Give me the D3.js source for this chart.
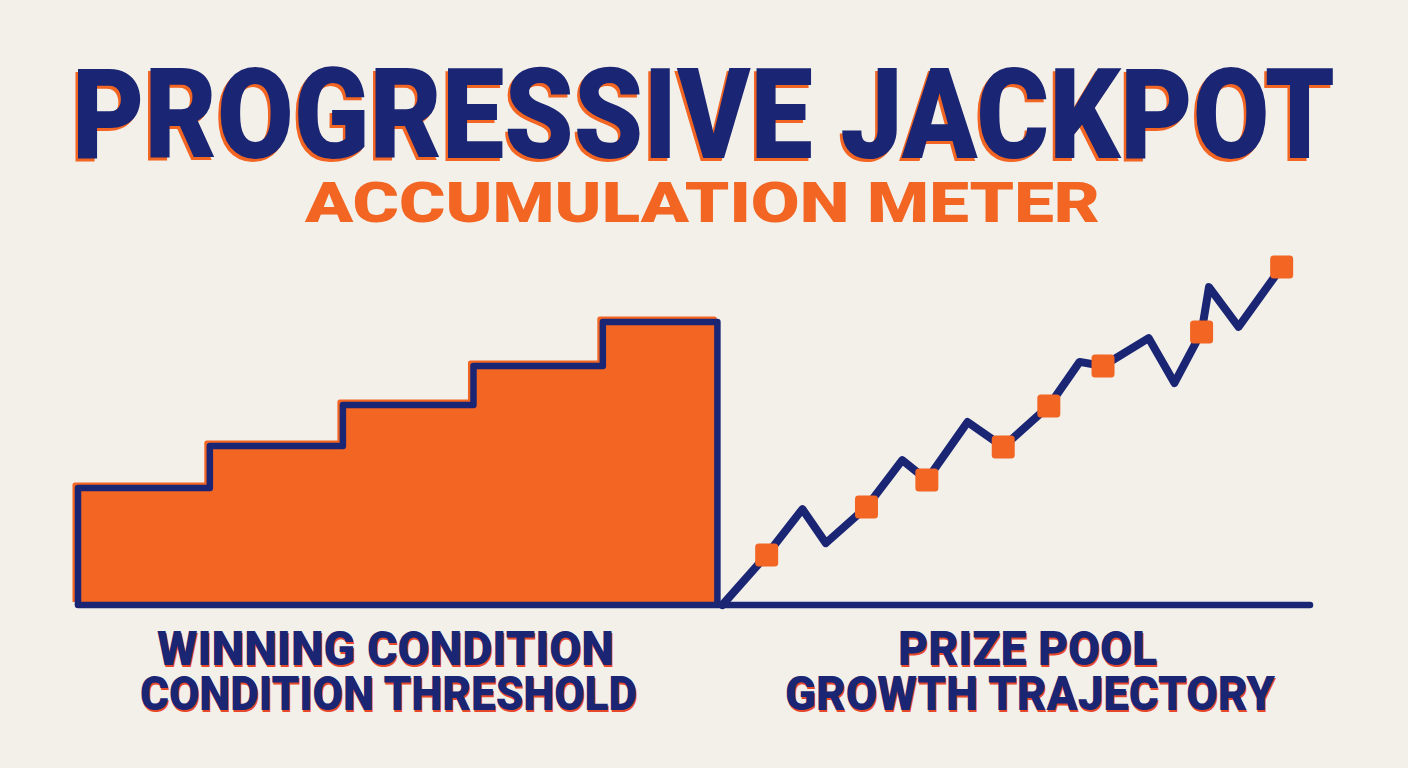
<!DOCTYPE html>
<html>
<head>
<meta charset="utf-8">
<script src="https://cdn.jsdelivr.net/npm/d3@7"></script>
<style>
  html, body { margin: 0; padding: 0; background: #f3f0ea; }
  svg { display: block; }
</style>
</head>
<body>
<svg id="chart" width="1408" height="768"></svg>
<script>
// ---- Data ----
const titleText = "PROGRESSIVE JACKPOT";
const subtitleText = "ACCUMULATION METER";
const leftLabelLines = ["WINNING CONDITION", "CONDITION THRESHOLD"];
const rightLabelLines = ["PRIZE POOL", "GROWTH TRAJECTORY"];

// Step chart (winning condition thresholds)
const stepCategories = ["Tier 1", "Tier 2", "Tier 3", "Tier 4", "Tier 5"];
const stepEdges = [0, 10.7, 21.5, 32.1, 42.6, 51.9];
const stepValues = [34.4, 46.8, 58.8, 70.3, 83.2];

// Prize pool growth trajectory
const poolX = [52.3, 55.9, 58.8, 60.7, 64.0, 66.9, 68.9, 72.2, 75.1, 78.8, 81.3, 83.2, 86.9, 89.0, 91.2, 91.8, 94.2, 97.7];
const poolY = [0, 14.7, 28.2, 18.2, 28.8, 42.6, 36.8, 53.8, 46.5, 58.5, 71.5, 70.3, 78.5, 65.3, 80.3, 93.5, 81.8, 99.4];
const poolMarker = [false, true, false, false, true, false, true, false, true, true, false, true, false, false, true, false, false, true];

// ---- Style ----
const NAVY = "#1a2573";
const ORANGE = "#f26522";
const SHADOW = "#e8482a";
const FONT = "Roboto, 'Noto Sans', Inter, 'DejaVu Sans', sans-serif";

const svg = d3.select("#chart");

const x = d3.scaleLinear().domain([0, 100]).range([78, 1310]);
const y = d3.scaleLinear().domain([0, 100]).range([605, 265]);

// ---- Titles ----
function shadowText(g, txt, px, py, size, len, color, shadowColor, dx, dy, anchor) {
  const mk = (fill, ox, oy) => g.append("text")
    .attr("x", px + ox).attr("y", py + oy)
    .attr("text-anchor", anchor || "start")
    .attr("font-family", FONT).attr("font-weight", 900)
    .attr("font-size", size)
    .attr("textLength", len).attr("lengthAdjust", "spacingAndGlyphs")
    .attr("fill", fill).text(txt);
  if (shadowColor) mk(shadowColor, dx, dy);
  mk(color, 0, 0);
}

const tg = svg.append("g");
shadowText(tg, titleText, 72, 158, 126, 1263, NAVY, ORANGE, -2.5, 2.5);
shadowText(tg, subtitleText, 305, 222, 55, 795, ORANGE, null, 0, 0);

// ---- Step chart ----
const stepData = stepValues.map((v, i) => ({ x: stepEdges[i], v }));
stepData.push({ x: stepEdges[stepEdges.length - 1], v: stepValues[stepValues.length - 1] });

const area = d3.area().curve(d3.curveStepAfter)
  .x(d => x(d.x)).y0(y(0)).y1(d => y(d.v));

const outlineData = [{ x: stepEdges[0], v: 0 }, ...stepData, { x: stepEdges[stepEdges.length - 1], v: 0 }];
const outline = d3.line().curve(d3.curveStepAfter)
  .x(d => x(d.x)).y(d => y(d.v));

const sg = svg.append("g");
sg.append("path").datum(outlineData)
  .attr("d", outline).attr("transform", "translate(-3,-3)")
  .attr("fill", "none").attr("stroke", ORANGE).attr("stroke-width", 5)
  .attr("stroke-linejoin", "round");
sg.append("path").datum(stepData).attr("d", area).attr("fill", ORANGE);
sg.append("path").datum(outlineData)
  .attr("d", outline)
  .attr("fill", "none").attr("stroke", NAVY).attr("stroke-width", 6.5)
  .attr("stroke-linejoin", "round");

// ---- Baseline ----
svg.append("line")
  .attr("x1", x(0)).attr("x2", x(100)).attr("y1", y(0)).attr("y2", y(0))
  .attr("stroke", NAVY).attr("stroke-width", 6.5).attr("stroke-linecap", "round");

// ---- Growth line ----
const poolData = poolX.map((px, i) => ({ x: px, v: poolY[i], m: poolMarker[i] }));
const line = d3.line().x(d => x(d.x)).y(d => y(d.v));
svg.append("path").datum(poolData).attr("d", line)
  .attr("fill", "none").attr("stroke", NAVY).attr("stroke-width", 8)
  .attr("stroke-linejoin", "round").attr("stroke-linecap", "round");

const ms = 23;
svg.append("g").selectAll("rect").data(poolData.filter(d => d.m)).join("rect")
  .attr("x", d => x(d.x) - ms / 2).attr("y", d => y(d.v) - ms / 2)
  .attr("width", ms).attr("height", ms).attr("rx", 3.5)
  .attr("fill", ORANGE);

// ---- Labels ----
const lg = svg.append("g");
shadowText(lg, leftLabelLines[0], 385.5, 665, 48, 457, NAVY, SHADOW, 1, 2, "middle");
shadowText(lg, leftLabelLines[1], 388.5, 710, 48, 497, NAVY, SHADOW, 1, 2, "middle");
shadowText(lg, rightLabelLines[0], 1027.5, 665, 48, 259, NAVY, SHADOW, 1, 2, "middle");
shadowText(lg, rightLabelLines[1], 1030, 710, 48, 490, NAVY, SHADOW, 1, 2, "middle");
</script>
</body>
</html>
